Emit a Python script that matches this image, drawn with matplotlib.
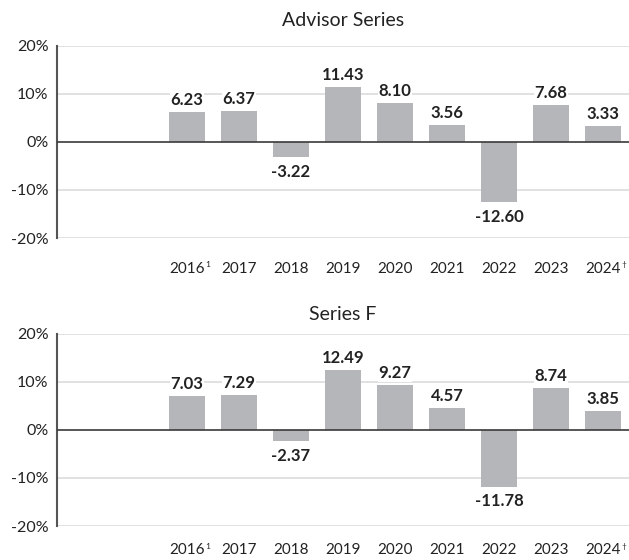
import matplotlib.pyplot as plt
import numpy as np

# data
years = ["", "", "2016", "2017", "2018", "2019", "2020",
         "2021", "2022", "2023", "2024"]
superscripts = {2: "1", 10: "\u2020"}
advisor = [None, None, 6.23, 6.37, -3.22, 11.43, 8.10, 3.56, -12.60, 7.68, 3.33]
series_f = [None, None, 7.03, 7.29, -2.37, 12.49, 9.27, 4.57, -11.78, 8.74, 3.85]
titles = ["Advisor Series", "Series F"]
yticks = [-20, -10, 0, 10, 20]

plt.rcParams["font.family"] = ["Lato", "DejaVu Sans"]
bar_color = "#b5b6b9"
text_color = "#222222"

fig = plt.figure(figsize=(6.29, 5.6), dpi=100)
ax_top = fig.add_axes([0.0906, 0.575, 0.9094, 0.343])
ax_bot = fig.add_axes([0.0906, 0.0607, 0.9094, 0.343])

for ax, vals, title, tpad, xpad in zip([ax_top, ax_bot], [advisor, series_f], titles,
                                       [14, 10], [17, 12.5]):
    x = np.arange(len(years))
    v = np.array([np.nan if n is None else n for n in vals])
    ax.set_xlim(-0.5, len(years) - 0.5)
    ax.set_ylim(-20, 20)
    for t in [-20, -10, 10, 20]:
        ax.axhline(t, color="#dcdcdc", lw=1.2, zorder=0)
    ax.axhline(0, color="#3a3a3a", lw=1.2, zorder=3)
    ax.bar(x, np.nan_to_num(v), width=0.71, color=bar_color, zorder=2)
    for xi, val in zip(x, v):
        if np.isnan(val):
            continue
        if val >= 0:
            ax.annotate(f"{val:.2f}", (xi, val), xytext=(0, 3), textcoords="offset points",
                        ha="center", va="bottom", fontsize=12, fontweight="bold",
                        color=text_color, zorder=4,
                        bbox=dict(facecolor="white", edgecolor="none", pad=0.5))
        else:
            ax.annotate(f"{val:.2f}", (xi, val), xytext=(0, -5), textcoords="offset points",
                        ha="center", va="top", fontsize=12, fontweight="bold",
                        color=text_color, zorder=4,
                        bbox=dict(facecolor="white", edgecolor="none", pad=0.5))
    ax.set_yticks(yticks)
    ax.set_yticklabels([f"{t}%" for t in yticks], fontsize=11.5, color=text_color)
    ax.set_xticks(x)
    ax.set_xticklabels(years, fontsize=11, color=text_color)
    ax.tick_params(axis="x", length=0, pad=xpad)
    ax.tick_params(axis="y", length=0, pad=6)
    # small superscript marks after some year labels
    for xi, s in superscripts.items():
        ax.annotate(s, (xi, 0), xycoords=ax.get_xaxis_transform(), xytext=(13, -xpad - 2),
                    textcoords="offset points", ha="left", va="center",
                    fontsize=6, color=text_color)
    for s in ["top", "right", "bottom"]:
        ax.spines[s].set_visible(False)
    ax.spines["left"].set_color("#555555")
    ax.spines["left"].set_linewidth(1.5)
    ax.set_title(title, fontsize=14, color=text_color, pad=tpad)

fig.savefig("out.png", dpi=100)
